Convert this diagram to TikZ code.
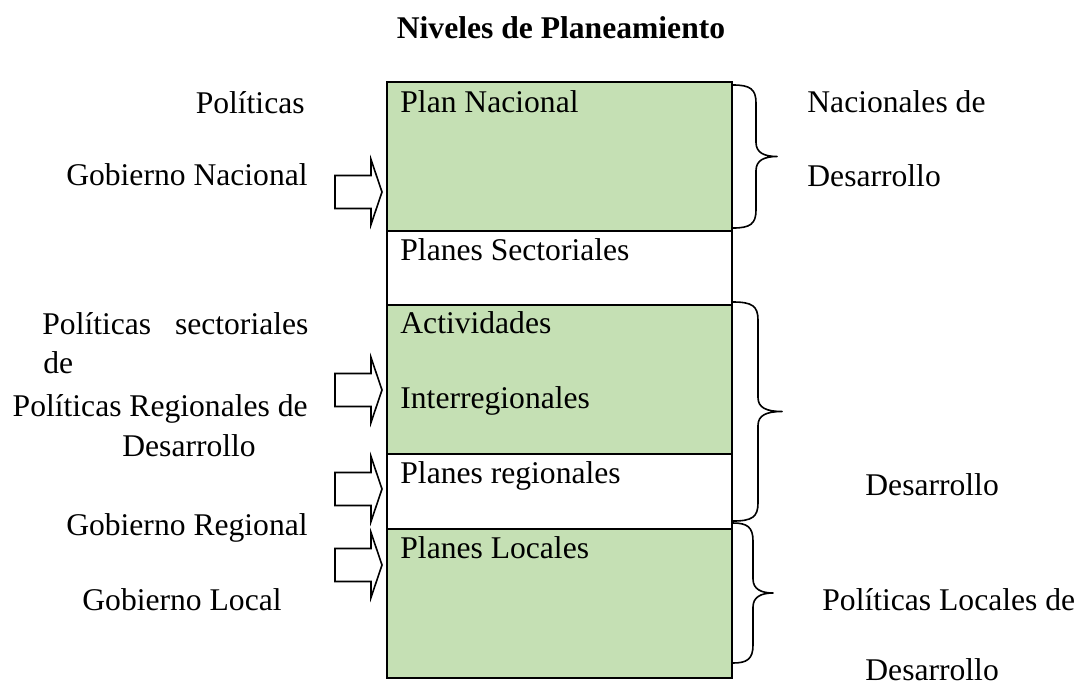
\documentclass[tikz,border=0pt]{standalone}
\usepackage{fontspec}
\setmainfont{Liberation Serif}
\definecolor{rowgreen}{HTML}{C5E0B4}
\tikzset{
  rowbox/.style={draw=black, line width=1pt, inner sep=0pt, anchor=north west, minimum width=172.5pt},
  txt/.style={inner sep=0pt, anchor=base west, font=\fontsize{15.8}{19}\selectfont},
  txtr/.style={txt, anchor=base east},
  brace/.style={draw=black, line width=0.8pt, line join=round},
  blockarrow/.style={draw=black, line width=0.8pt, fill=white, line join=miter}
}
\newcommand{\myarrow}[1]{%
  \draw[blockarrow] (335,{#1-16.5}) -- (371,{#1-16.5}) -- (371,{#1-32.5}) -- (382,#1) -- (371,{#1+32.5}) -- (371,{#1+16.5}) -- (335,{#1+16.5}) -- cycle;}
\newcommand{\mybrace}[5]{% x-start, top, bottom, vertical x, tip x ; tip y computed
  \draw[brace] (#1,#2) .. controls ({#4-6},#2) and (#4,{#2+4}) .. (#4,{#2+18})
     -- (#4,{(#2+#3)/2-14}) .. controls (#4,{(#2+#3)/2-4}) and ({#4+8},{(#2+#3)/2}) .. (#5,{(#2+#3)/2})
     .. controls ({#4+8},{(#2+#3)/2}) and (#4,{(#2+#3)/2+4}) .. (#4,{(#2+#3)/2+14})
     -- (#4,{#3-18}) .. controls (#4,{#3-4}) and ({#4-6},#3) .. (#1,#3);}
\begin{document}
\begin{tikzpicture}[x=0.5pt,y=-0.5pt]
\useasboundingbox (0,0) rectangle (1079,686);
% title
\node[txt, anchor=base, font=\fontsize{15.8}{19}\selectfont\bfseries] (title) at (561,38) {Niveles de Planeamiento};
% central column
\node[rowbox, fill=rowgreen, minimum height=74.5pt] (r1) at (386,81) {};
\node[rowbox, fill=white, minimum height=37pt] (r2) at (386,230) {};
\node[rowbox, fill=rowgreen, minimum height=74.5pt] (r3) at (386,304) {};
\node[rowbox, fill=white, minimum height=37.5pt] (r4) at (386,453) {};
\node[rowbox, fill=rowgreen, minimum height=74.5pt] (r5) at (386,528) {};
\node[txt] (t1) at (400,112) {Plan Nacional};
\node[txt] (t2) at (400,260) {Planes Sectoriales};
\node[txt] (t3a) at (400,333) {Actividades};
\node[txt] (t3b) at (400,408) {Interregionales};
\node[txt] (t4) at (400,483) {Planes regionales};
\node[txt] (t5) at (400,558) {Planes Locales};
% arrows
\myarrow{192}
\myarrow{390}
\myarrow{489}
\myarrow{565}
% braces
\mybrace{733}{85}{228}{756}{777}
\mybrace{733}{302}{521}{758}{782}
\mybrace{733}{523}{663}{753}{773}
% left texts
\node[txtr] (l1) at (305,113) {Políticas};
\node[txtr] (l2) at (308,185) {Gobierno Nacional};
\node[txt] (l3) at (42,334) {\makebox[133pt][s]{Políticas sectoriales}};
\node[txt] (l4) at (43,373) {de};
\node[txtr] (l5) at (308,416) {Políticas Regionales de};
\node[txt] (l6) at (122,456) {Desarrollo};
\node[txtr] (l7) at (308,535) {Gobierno Regional};
\node[txt] (l8) at (82,610) {Gobierno Local};
% right texts
\node[txt] (g1) at (807,112) {Nacionales de};
\node[txt] (g2) at (807,186) {Desarrollo};
\node[txt] (g3) at (865,495) {Desarrollo};
\node[txt] (g4) at (822,610) {Políticas Locales de};
\node[txt] (g5) at (865,680) {Desarrollo};
\end{tikzpicture}
\end{document}
